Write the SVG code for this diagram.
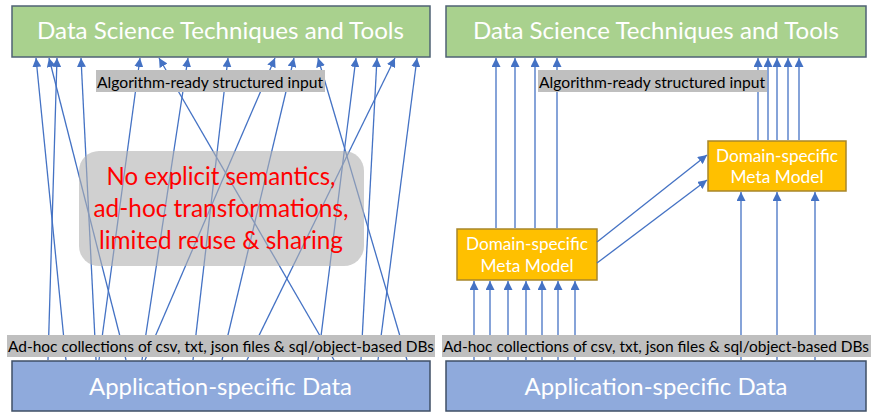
<svg xmlns="http://www.w3.org/2000/svg" width="872" height="412" viewBox="0 0 872 412">
  <defs>
    <marker id="arrow" viewBox="0 0 10 10" refX="10" refY="5" markerWidth="9" markerHeight="9" markerUnits="userSpaceOnUse" orient="auto">
      <path d="M0,0 L10,5 L0,10 z" fill="#4472C4"/>
    </marker>
    <style>
      .tools{fill:#A9D18E;stroke:#4F6274;stroke-width:1.5}
      .data{fill:#8FAADC;stroke:#3F4F66;stroke-width:1.5}
      .meta{fill:#FFC000;stroke:#A8862A;stroke-width:1.5}
      .tag{fill:#BFBFBF}
      text{font-family:Lato,"Open Sans","Liberation Sans",sans-serif}
      .big{font-size:24px;fill:#FFFFFF;text-anchor:middle}
      .tagtxt{font-size:15px;fill:#000000}
      .metatxt{font-size:17px;fill:#FFFFFF;text-anchor:middle}
      .note{fill:#B0B0B0;fill-opacity:0.6}
      .notetxt{font-size:25px;fill:#FF0000;text-anchor:middle}
      .conn line{stroke:#4472C4;stroke-width:1.3;marker-end:url(#arrow)}
    </style>
  </defs>

  <!-- ===== Left panel: direct, ad-hoc wiring ===== -->
  <g id="left-tools">
    <rect class="tools" x="12" y="6" width="418" height="51"/>
    <text class="big" x="220.5" y="39" textLength="367" lengthAdjust="spacingAndGlyphs">Data Science Techniques and Tools</text>
  </g>
  <g id="left-data">
    <rect class="data" x="12" y="361" width="418" height="50"/>
    <text class="big" x="220.5" y="395" textLength="263" lengthAdjust="spacingAndGlyphs">Application-specific Data</text>
  </g>

  <!-- ===== Right panel: mediated by meta models ===== -->
  <g id="right-tools">
    <rect class="tools" x="446" y="6" width="420" height="51"/>
    <text class="big" x="656" y="39" textLength="366" lengthAdjust="spacingAndGlyphs">Data Science Techniques and Tools</text>
  </g>
  <g id="right-data">
    <rect class="data" x="446" y="361" width="420" height="50"/>
    <text class="big" x="656" y="395" textLength="263" lengthAdjust="spacingAndGlyphs">Application-specific Data</text>
  </g>
  <g id="meta-model-lower">
    <rect class="meta" x="457" y="229" width="140" height="51"/>
    <text class="metatxt" x="527" y="250" textLength="122" lengthAdjust="spacingAndGlyphs">Domain-specific</text>
    <text class="metatxt" x="527" y="272" textLength="93" lengthAdjust="spacingAndGlyphs">Meta Model</text>
  </g>
  <g id="meta-model-upper">
    <rect class="meta" x="708" y="141" width="138" height="50"/>
    <text class="metatxt" x="777" y="162" textLength="122" lengthAdjust="spacingAndGlyphs">Domain-specific</text>
    <text class="metatxt" x="777" y="183" textLength="93" lengthAdjust="spacingAndGlyphs">Meta Model</text>
  </g>

  <!-- ===== Connectors ===== -->
  <g id="connectors" class="conn">
    <!-- left: data straight into tools -->
    <line x1="66" y1="360" x2="36" y2="58"/>
    <line x1="48" y1="360" x2="57" y2="58"/>
    <line x1="126" y1="360" x2="49" y2="58"/>
    <line x1="96" y1="360" x2="81" y2="58"/>
    <line x1="99" y1="360" x2="140" y2="58"/>
    <line x1="334" y1="360" x2="159" y2="58"/>
    <line x1="142" y1="360" x2="188" y2="58"/>
    <line x1="193" y1="360" x2="228" y2="58"/>
    <line x1="145" y1="360" x2="275" y2="58"/>
    <line x1="222" y1="360" x2="294" y2="58"/>
    <line x1="407" y1="360" x2="318" y2="58"/>
    <line x1="318" y1="360" x2="356" y2="58"/>
    <line x1="361" y1="360" x2="377" y2="58"/>
    <line x1="247" y1="360" x2="395" y2="58"/>
    <line x1="378" y1="360" x2="417" y2="58"/>

    <!-- right: data into lower meta model -->
    <line x1="474" y1="360" x2="474" y2="281"/>
    <line x1="490" y1="360" x2="490" y2="281"/>
    <line x1="508" y1="360" x2="508" y2="281"/>
    <line x1="526" y1="360" x2="526" y2="281"/>
    <line x1="542" y1="360" x2="542" y2="281"/>
    <line x1="558" y1="360" x2="558" y2="281"/>
    <line x1="575" y1="360" x2="575" y2="281"/>
    <!-- right: data into upper meta model -->
    <line x1="741" y1="360" x2="741" y2="192"/>
    <line x1="777" y1="360" x2="777" y2="192"/>
    <line x1="815" y1="360" x2="815" y2="192"/>
    <!-- right: lower meta model into upper meta model -->
    <line x1="597" y1="242" x2="707" y2="155"/>
    <line x1="597" y1="263" x2="707" y2="180"/>
    <!-- right: meta models into tools -->
    <line x1="496" y1="228" x2="496" y2="58"/>
    <line x1="515" y1="228" x2="515" y2="58"/>
    <line x1="535" y1="228" x2="535" y2="58"/>
    <line x1="557" y1="228" x2="557" y2="58"/>
    <line x1="758" y1="140" x2="758" y2="58"/>
    <line x1="768" y1="140" x2="768" y2="58"/>
    <line x1="777" y1="140" x2="777" y2="58"/>
    <line x1="788" y1="140" x2="788" y2="58"/>
    <line x1="799" y1="140" x2="799" y2="58"/>
  </g>

  <!-- ===== Labels over the connectors ===== -->
  <g id="left-input-label">
    <rect class="tag" x="96" y="70" width="229" height="22"/>
    <text class="tagtxt" x="97" y="87.5" textLength="226" lengthAdjust="spacingAndGlyphs">Algorithm-ready structured input</text>
  </g>
  <g id="left-sources-label">
    <rect class="tag" x="7" y="335" width="428" height="22"/>
    <text class="tagtxt" x="8" y="352" textLength="426" lengthAdjust="spacingAndGlyphs">Ad-hoc collections of csv, txt, json files &amp; sql/object-based DBs</text>
  </g>
  <g id="right-input-label">
    <rect class="tag" x="538" y="70" width="229" height="22"/>
    <text class="tagtxt" x="539" y="87.5" textLength="226" lengthAdjust="spacingAndGlyphs">Algorithm-ready structured input</text>
  </g>
  <g id="right-sources-label">
    <rect class="tag" x="442" y="335" width="429" height="22"/>
    <text class="tagtxt" x="443" y="352" textLength="426" lengthAdjust="spacingAndGlyphs">Ad-hoc collections of csv, txt, json files &amp; sql/object-based DBs</text>
  </g>
  <g id="left-note">
    <rect class="note" x="79" y="151" width="285" height="115" rx="20"/>
    <text class="notetxt" x="221" y="185" textLength="229" lengthAdjust="spacingAndGlyphs">No explicit semantics,</text>
    <text class="notetxt" x="221" y="217" textLength="255" lengthAdjust="spacingAndGlyphs">ad-hoc transformations,</text>
    <text class="notetxt" x="221" y="249" textLength="244" lengthAdjust="spacingAndGlyphs">limited reuse &amp; sharing</text>
  </g>
</svg>
